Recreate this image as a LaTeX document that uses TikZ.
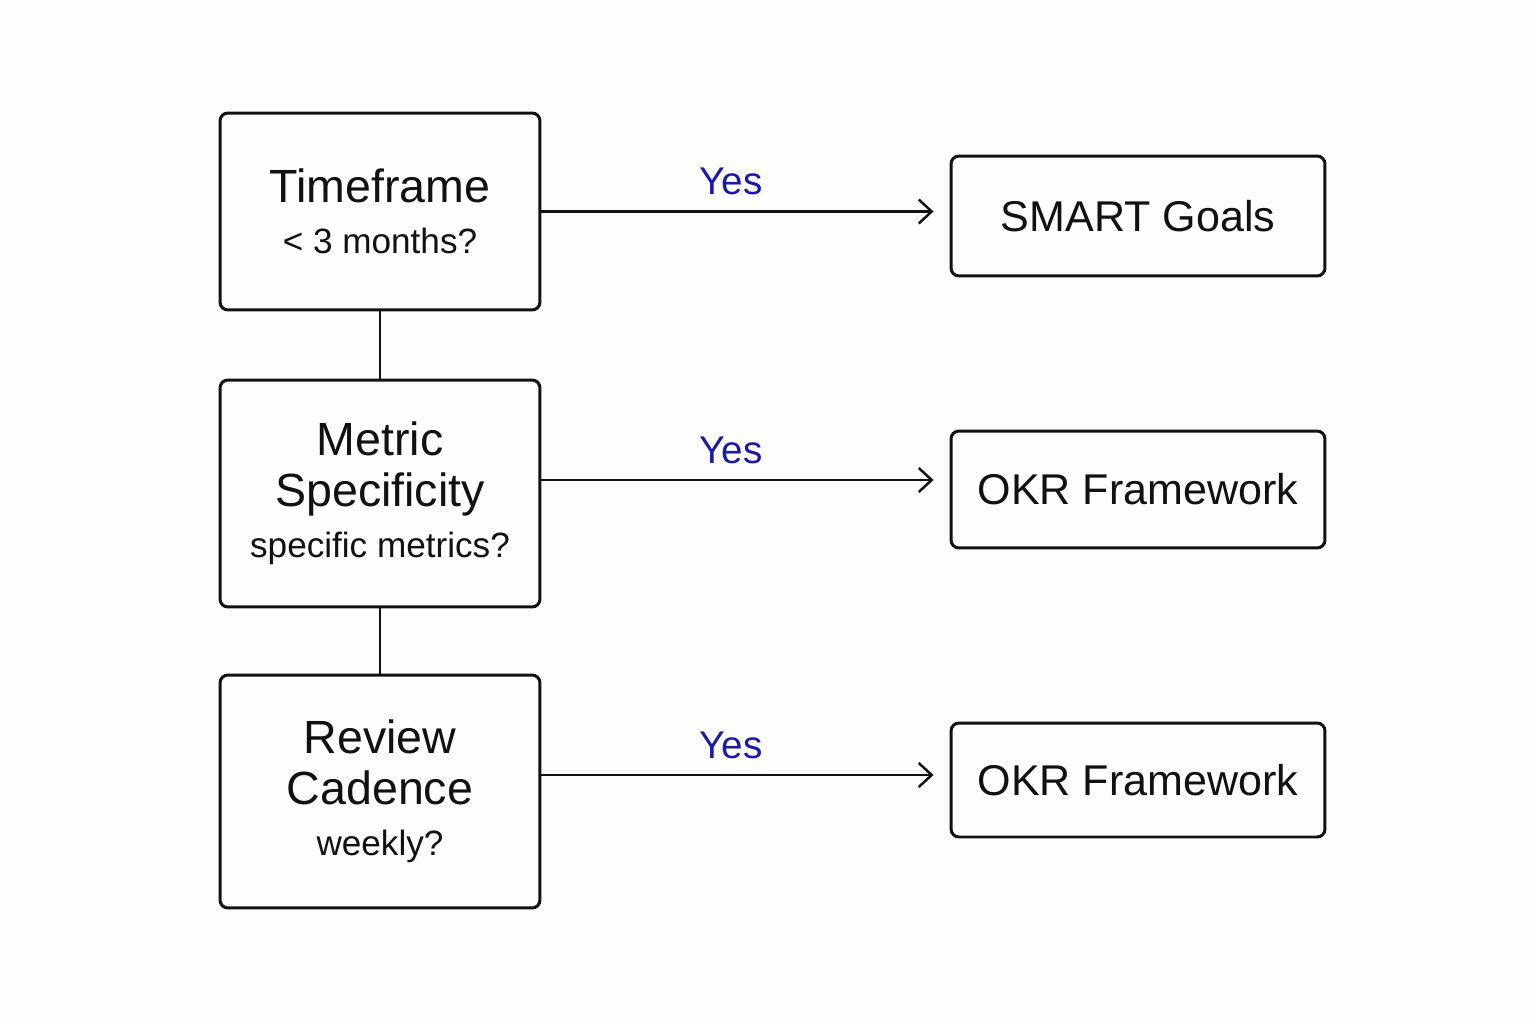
\documentclass[tikz,border=0pt]{standalone}
\usepackage{fontspec}
\setmainfont{Liberation Sans}
\usepackage{tikz}
\usetikzlibrary{arrows.meta,positioning}
\definecolor{inkblack}{RGB}{17,17,17}
\definecolor{yesblue}{RGB}{26,26,168}
\definecolor{paper}{RGB}{253,253,251}
\newcommand{\qfont}{\fontsize{20}{33}\selectfont}

\begin{document}
\begin{tikzpicture}[x=0.02cm,y=-0.02cm,
	qbox/.style={draw=inkblack,line width=1.7pt,rounded corners=4.5pt,align=center,inner sep=0pt,
		text=inkblack,font=\fontsize{26.5}{29}\selectfont,minimum width=6.4cm},
	abox/.style={draw=inkblack,line width=1.7pt,rounded corners=4.5pt,inner sep=0pt,
		text=inkblack,font=\fontsize{24.5}{28}\selectfont,minimum width=7.48cm},
	link/.style={inkblack,line width=1.4pt},
	yesarrow/.style={link,-{Straight Barb[length=0.26cm,width=0.48cm]},shorten >=0.32cm},
	yeslabel/.style={text=yesblue,font=\fontsize{22}{24}\selectfont,inner sep=0pt}]
	\fill[paper] (0,0) rectangle (1536,1024);
	\useasboundingbox (0,0) rectangle (1536,1024);
	
	% questions
	\node[qbox,minimum height=3.94cm] (tf) at (380,211.5) {Timeframe\\\qfont < 3 months?};
	\node[qbox,minimum height=4.54cm] (ms) at (380,493.5) {Metric\\Specificity\\\qfont specific metrics?};
	\node[qbox,minimum height=4.66cm] (rc) at (380,791.5) {Review\\Cadence\\\qfont weekly?};
	
	% answers
	\node[abox,minimum height=2.4cm] (smart) at (1138,216) {SMART Goals};
	\node[abox,minimum height=2.34cm] (okra) at (1138,489.5) {OKR Framework};
	\node[abox,minimum height=2.28cm] (okrb) at (1138,780) {OKR Framework};
	
	\draw[link] (tf.south) -- (ms.north);
	\draw[link] (ms.south) -- (rc.north);
	
	\coordinate (tfout) at (tf.east);
	\coordinate (msout) at ([yshift=0.27cm]ms.east);
	\coordinate (rcout) at ([yshift=0.33cm]rc.east);
	\draw[yesarrow] (tfout) -- node[yeslabel,pos=0.465,above=0.3cm] (yesa) {Yes} (tfout -| smart.west);
	\draw[yesarrow] (msout) -- node[yeslabel,pos=0.465,above=0.3cm] (yesb) {Yes} (msout -| okra.west);
	\draw[yesarrow] (rcout) -- node[yeslabel,pos=0.465,above=0.3cm] (yesc) {Yes} (rcout -| okrb.west);
\end{tikzpicture}
\end{document}
